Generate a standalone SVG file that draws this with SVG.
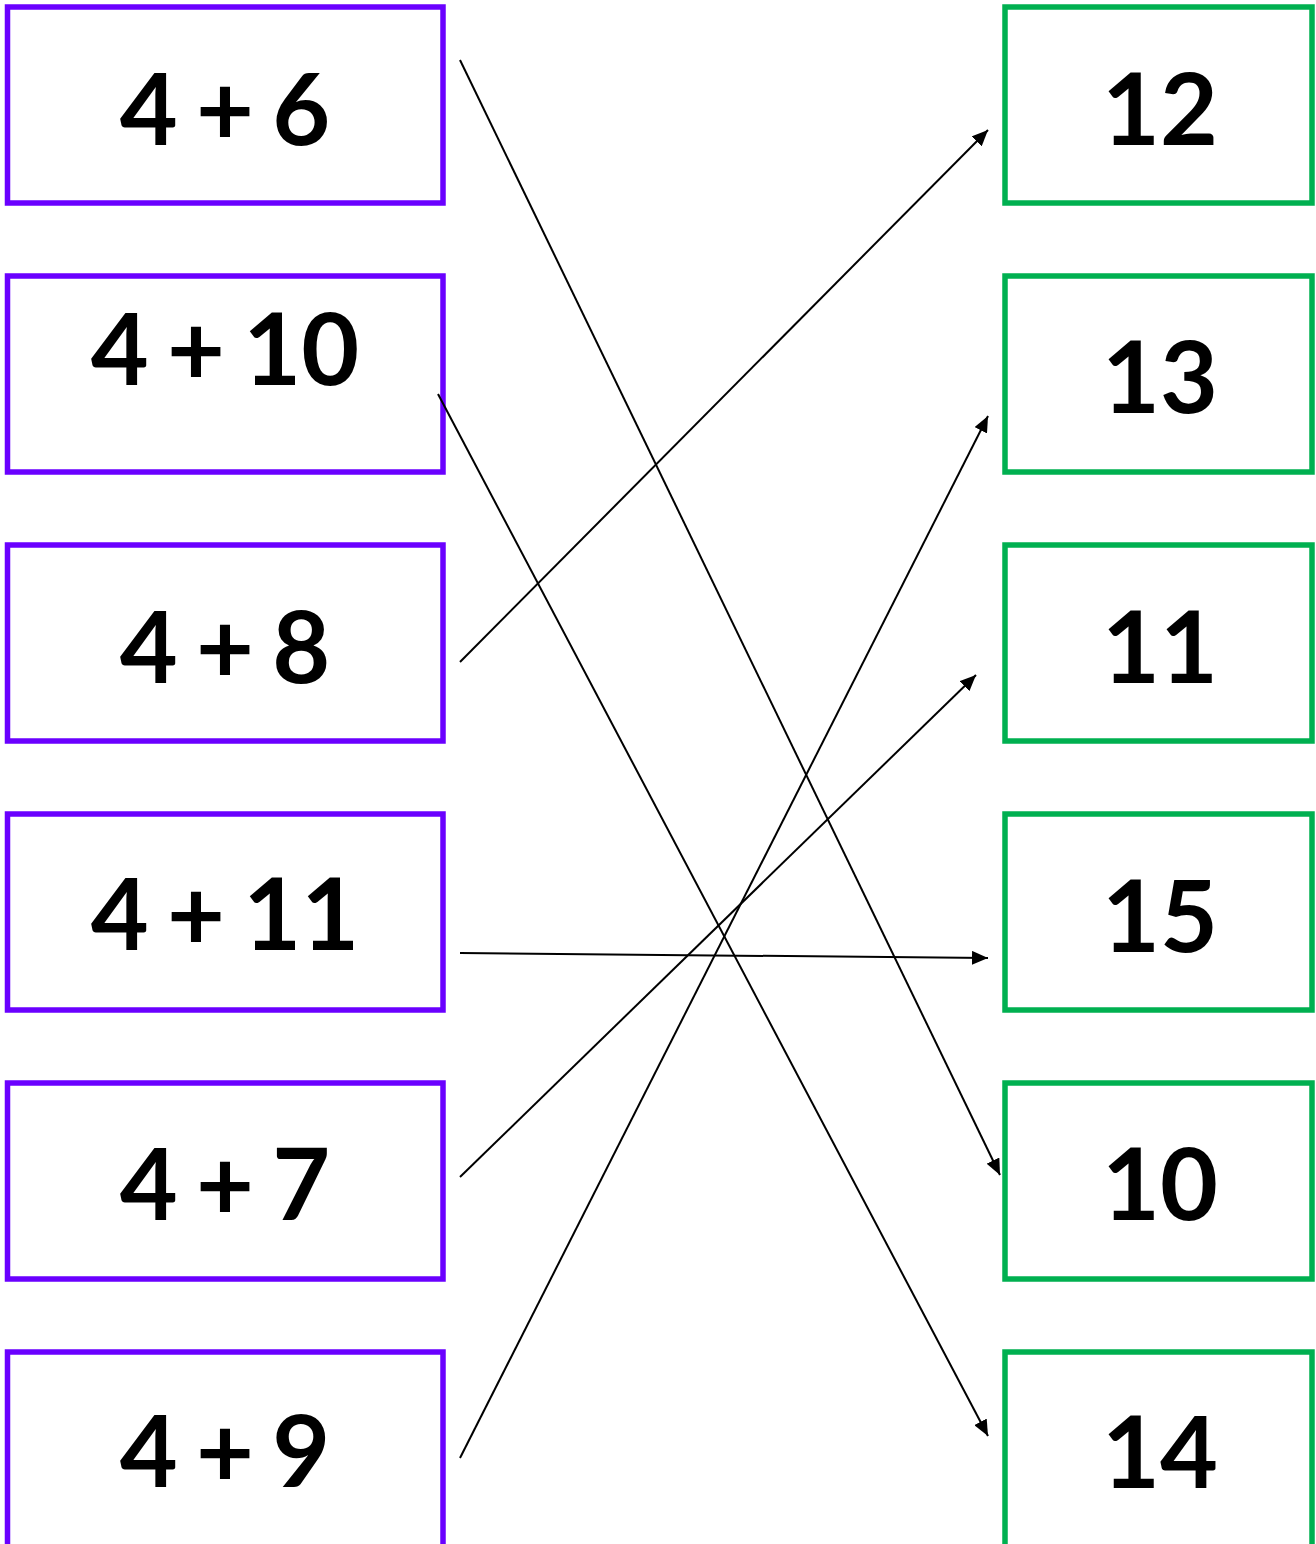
<svg xmlns="http://www.w3.org/2000/svg" width="1316" height="1544" viewBox="0 0 1316 1544">
<defs>
<style>
.l{fill:#fff;stroke:#6a00ff;stroke-width:5.5}
.r{fill:#fff;stroke:#00b050;stroke-width:5.5}
.t{font-family:Lato,"Open Sans","DejaVu Sans",sans-serif;font-size:100px;font-weight:700;fill:#000;text-anchor:middle;word-spacing:-6px}
.c{stroke:#000;stroke-width:2;fill:none;marker-end:url(#ah)}
</style>
<marker id="ah" markerUnits="userSpaceOnUse" markerWidth="18" markerHeight="14" refX="16" refY="7" orient="auto">
<path d="M0,0 L16,7 L0,14 Z" fill="#000"/>
</marker>
</defs>
<rect width="1316" height="1544" fill="#fff"/>
<g id="l1"><rect class="l" x="7.5" y="7" width="435.5" height="196"/><text class="t" x="225" y="145">4 + 6</text></g>
<g id="l2"><rect class="l" x="7.5" y="276" width="435.5" height="196"/><text class="t" x="225" y="385">4 + 10</text></g>
<g id="l3"><rect class="l" x="7.5" y="545" width="435.5" height="196"/><text class="t" x="225" y="683">4 + 8</text></g>
<g id="l4"><rect class="l" x="7.5" y="814" width="435.5" height="196"/><text class="t" x="225" y="950">4 + 11</text></g>
<g id="l5"><rect class="l" x="7.5" y="1083" width="435.5" height="196"/><text class="t" x="225" y="1220">4 + 7</text></g>
<g id="l6"><rect class="l" x="7.5" y="1352" width="435.5" height="196"/><text class="t" x="225" y="1487">4 + 9</text></g>
<g id="r1"><rect class="r" x="1005" y="7" width="307" height="196"/><text class="t" x="1160" y="145">12</text></g>
<g id="r2"><rect class="r" x="1005" y="276" width="307" height="196"/><text class="t" x="1160" y="413">13</text></g>
<g id="r3"><rect class="r" x="1005" y="545" width="307" height="196"/><text class="t" x="1160" y="683">11</text></g>
<g id="r4"><rect class="r" x="1005" y="814" width="307" height="196"/><text class="t" x="1160" y="952">15</text></g>
<g id="r5"><rect class="r" x="1005" y="1083" width="307" height="196"/><text class="t" x="1160" y="1220">10</text></g>
<g id="r6"><rect class="r" x="1005" y="1352" width="307" height="196"/><text class="t" x="1160" y="1488">14</text></g>
<g id="connectors">
<line class="c" x1="460" y1="60" x2="1000" y2="1175"/>
<line class="c" x1="438" y1="394" x2="988" y2="1436"/>
<line class="c" x1="460" y1="662" x2="988" y2="130"/>
<line class="c" x1="460" y1="953" x2="988" y2="958"/>
<line class="c" x1="460" y1="1177" x2="976" y2="675"/>
<line class="c" x1="460" y1="1458" x2="988" y2="416"/>
</g>
</svg>
